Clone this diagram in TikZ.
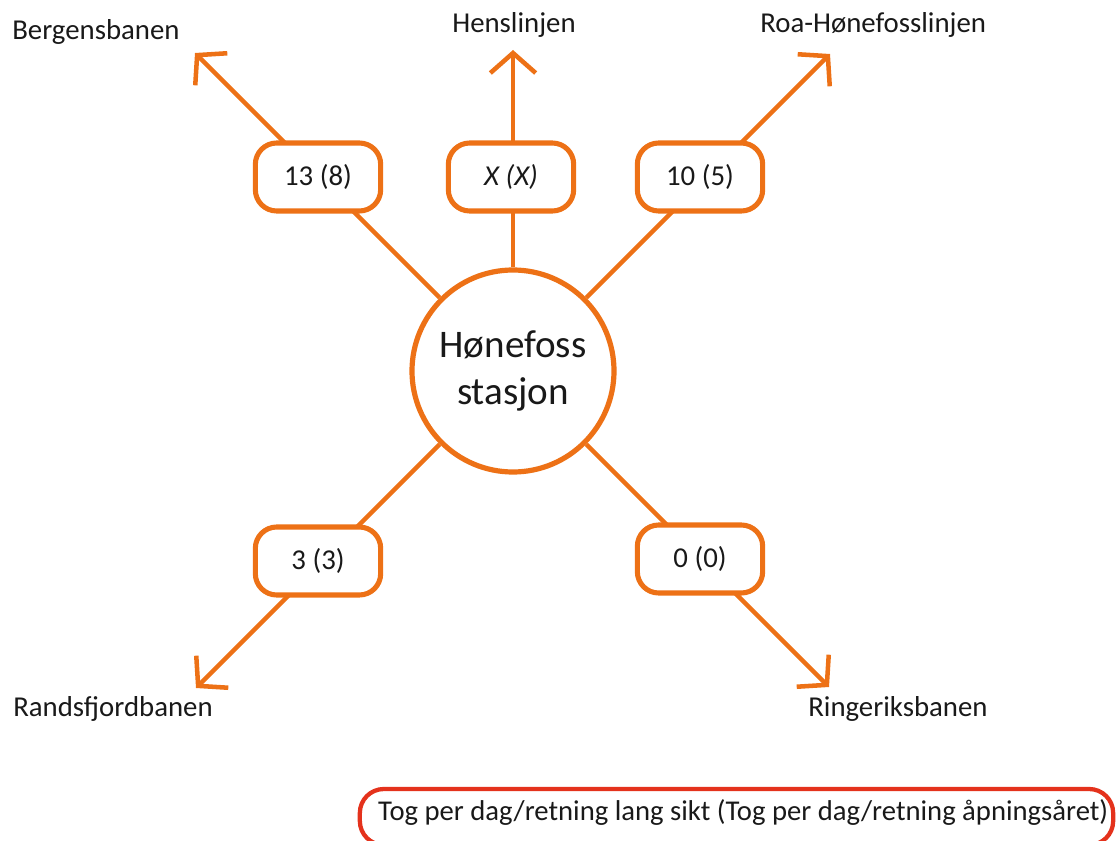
\documentclass[tikz,border=0pt]{standalone}
\usepackage{fontspec}
\setmainfont{Carlito}
\usetikzlibrary{arrows.meta}
\definecolor{rail}{RGB}{237,113,22}
\definecolor{legendred}{RGB}{228,50,28}
\begin{document}
\begin{tikzpicture}[x=0.75pt,y=-0.75pt,
  lbl/.style={font=\fontsize{21.6}{26}\selectfont, inner sep=0pt, text=black!90},
  hub/.style={circle, draw=rail, line width=3.9pt, fill=white, minimum size=151.5pt,
    inner sep=0pt, align=center, font=\fontsize{29.3}{35}\selectfont, text=black!90},
  count/.style={rectangle, rounded corners=16pt, draw=rail, line width=3.8pt, fill=white,
    minimum width=94pt, minimum height=51pt, inner sep=0pt,
    font=\fontsize{21.6}{26}\selectfont, text=black!90},
  route/.style={draw=rail, line width=3.4pt,
    -{Straight Barb[length=15pt, width=34pt, line width=3.4pt]}},
  legend/.style={rectangle, rounded corners=18pt, draw=legendred, line width=3.2pt,
    minimum width=565pt, minimum height=42pt, inner sep=0pt,
    text height=15pt, text depth=10.5pt,
    font=\fontsize{21.5}{26}\selectfont, text=black!90}]
\useasboundingbox (0,0) rectangle (1117,841);

% station
\node[hub] (hub) at (513,371) {Hønefoss\\stasjon};

% line ends
\coordinate (tB) at (195,53);
\coordinate (tH) at (513,50);
\coordinate (tR) at (830,54);
\coordinate (tF) at (196,688);
\coordinate (tG) at (829,687);

% radial lines
\draw[route] (hub) -- (tB);
\draw[route] (hub) -- (tH);
\draw[route] (hub) -- (tR);
\draw[route] (hub) -- (tF);
\draw[route] (hub) -- (tG);

% train counts
\node[count] (cB) at (318,177) {13 (8)};
\node[count] (cH) at (511,177) {\itshape X (X)};
\node[count] (cR) at (700,177) {10 (5)};
\node[count] (cF) at (318,561) {3 (3)};
\node[count] (cG) at (700,559) {0 (0)};

% line names
\node[lbl, anchor=base west] (nB) at (12,40) {Bergensbanen};
\node[lbl, anchor=base] (nH) at (514,33) {Henslinjen};
\node[lbl, anchor=base west] (nR) at (760,33) {Roa-Hønefosslinjen};
\node[lbl, anchor=base west] (nF) at (13,716) {Randsfjordbanen};
\node[lbl, anchor=base west] (nG) at (808,716) {Ringeriksbanen};

% legend (text sits a little right of the frame's centre)
\node[legend] (key) at (736.5,817) {\hspace*{10pt}Tog per dag/retning lang sikt (Tog per dag/retning åpningsåret)};
\end{tikzpicture}
\end{document}
